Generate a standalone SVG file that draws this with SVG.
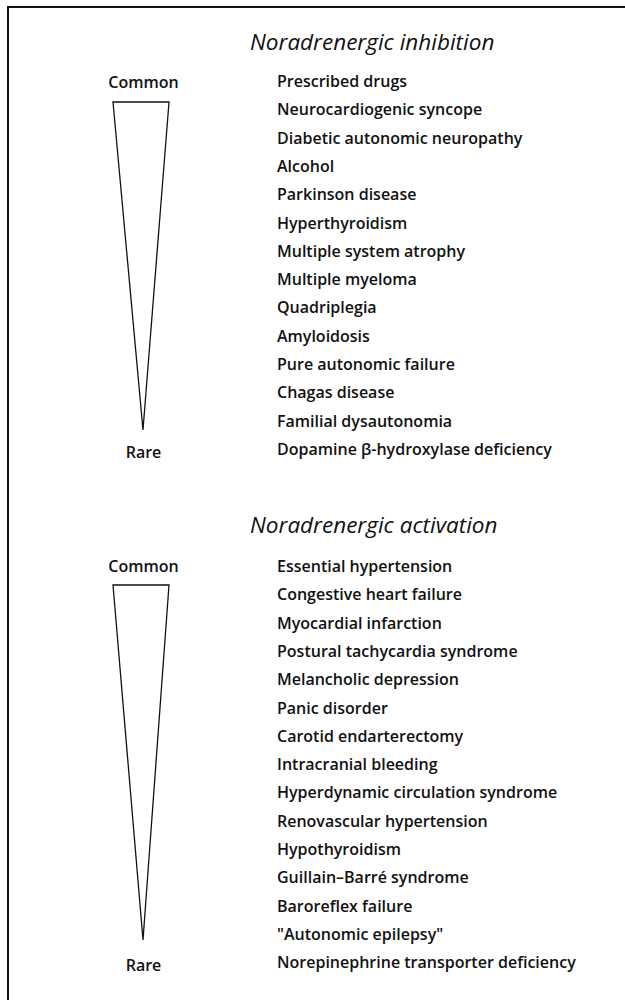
<svg xmlns="http://www.w3.org/2000/svg" width="625" height="1000" viewBox="0 0 625 1000">
<style>
.t{font-family:"Open Sans","Liberation Sans",sans-serif;font-size:16px;font-weight:600;fill:#111}
.h{font-family:"Open Sans","Liberation Sans",sans-serif;font-size:22.5px;font-style:italic;font-weight:500;fill:#111}
.c{text-anchor:middle}
.tri{fill:none;stroke:#111;stroke-width:1.3;stroke-linejoin:miter}
.frame{fill:none;stroke:#111;stroke-width:2}
</style>
<g id="frame"><path class="frame" d="M625 7 H8 V1000"/></g>
<g id="connectors"></g>
<g id="inhibition">
<text class="h" x="250" y="50">Noradrenergic inhibition</text>
<text class="t c" x="143.5" y="88">Common</text>
<polygon class="tri" points="113,102 169,102 143,430"/>
<text class="t c" x="143.5" y="458">Rare</text>
<text class="t" x="277" y="87">Prescribed drugs</text>
<text class="t" x="277" y="115.3">Neurocardiogenic syncope</text>
<text class="t" x="277" y="143.6">Diabetic autonomic neuropathy</text>
<text class="t" x="277" y="171.9">Alcohol</text>
<text class="t" x="277" y="200.2">Parkinson disease</text>
<text class="t" x="277" y="228.5">Hyperthyroidism</text>
<text class="t" x="277" y="256.8">Multiple system atrophy</text>
<text class="t" x="277" y="285.1">Multiple myeloma</text>
<text class="t" x="277" y="313.4">Quadriplegia</text>
<text class="t" x="277" y="341.7">Amyloidosis</text>
<text class="t" x="277" y="370">Pure autonomic failure</text>
<text class="t" x="277" y="398.3">Chagas disease</text>
<text class="t" x="277" y="426.6">Familial dysautonomia</text>
<text class="t" x="277" y="455">Dopamine β-hydroxylase deficiency</text>
</g>
<g id="activation">
<text class="h" x="250" y="533">Noradrenergic activation</text>
<text class="t c" x="143.5" y="572">Common</text>
<polygon class="tri" points="113,585 169,585 143,940"/>
<text class="t c" x="143.5" y="971">Rare</text>
<text class="t" x="277" y="572">Essential hypertension</text>
<text class="t" x="277" y="600.3">Congestive heart failure</text>
<text class="t" x="277" y="628.6">Myocardial infarction</text>
<text class="t" x="277" y="656.9">Postural tachycardia syndrome</text>
<text class="t" x="277" y="685.2">Melancholic depression</text>
<text class="t" x="277" y="713.5">Panic disorder</text>
<text class="t" x="277" y="741.8">Carotid endarterectomy</text>
<text class="t" x="277" y="770.1">Intracranial bleeding</text>
<text class="t" x="277" y="798.4">Hyperdynamic circulation syndrome</text>
<text class="t" x="277" y="826.7">Renovascular hypertension</text>
<text class="t" x="277" y="855">Hypothyroidism</text>
<text class="t" x="277" y="883.3">Guillain–Barré syndrome</text>
<text class="t" x="277" y="911.6">Baroreflex failure</text>
<text class="t" x="277" y="939.9">"Autonomic epilepsy"</text>
<text class="t" x="277" y="968.2">Norepinephrine transporter deficiency</text>
</g>
</svg>
